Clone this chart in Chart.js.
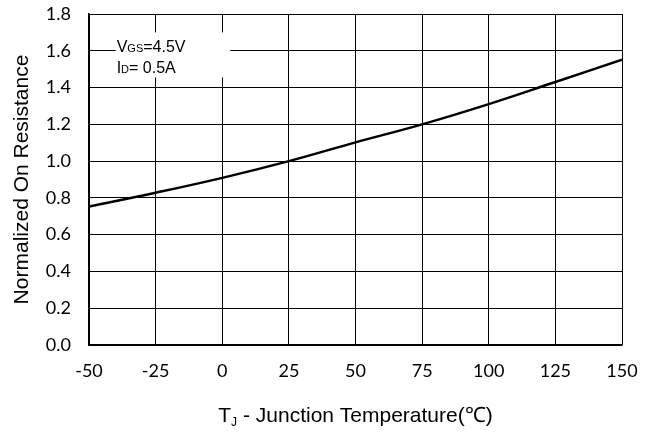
<!DOCTYPE html>
<html>
<head>
<meta charset="utf-8">
<script src="https://cdn.jsdelivr.net/npm/chart.js@4.4.1/dist/chart.umd.min.js"></script>
<style>
  html, body { margin: 0; padding: 0; background: #fff; }
  #wrap { width: 657px; height: 432px; }
</style>
</head>
<body>
<div id="wrap"><canvas id="rdsChart" width="657" height="432"></canvas></div>
<script>
// data
const temps = [-50, -25, 0, 25, 50, 75, 100, 125, 150];
const resistance = [0.753, 0.828, 0.909, 1.0, 1.102, 1.2, 1.31, 1.43, 1.551];
const xTicks = [-50, -25, 0, 25, 50, 75, 100, 125, 150];
const yTicks = [0.0, 0.2, 0.4, 0.6, 0.8, 1.0, 1.2, 1.4, 1.6, 1.8];
const noteLines = [['V', 'GS', '=4.5V'], ['I', 'D', '= 0.5A']];
const xTitle = ['T', 'J', ' - Junction Temperature(\u2103)'];

const tickFont = { family: 'Lato', size: 18 };
const textFamily = '"Liberation Sans", Arial, sans-serif';

// white note box + text, and the x title with subscript
const overlay = {
    id: 'overlay',
    afterDraw(chart) {
        const ctx = chart.ctx;
        const xs = chart.scales.x, ys = chart.scales.y;
        ctx.save();
        // note box sits over the grid near the top left
        const bx = xs.getPixelForValue(-40), by = ys.getPixelForValue(1.70);
        const bw = xs.getPixelForValue(3) - bx, bh = ys.getPixelForValue(1.455) - by;
        ctx.fillStyle = '#fff';
        ctx.fillRect(bx, by, bw, bh);
        ctx.fillStyle = '#000';
        ctx.textBaseline = 'alphabetic';
        noteLines.forEach(function(parts, i) {
            let x = bx + 1;
            const y = by + 20 + i * 21;
            ctx.font = '16px ' + textFamily;
            ctx.fillText(parts[0], x, y);
            x += ctx.measureText(parts[0]).width;
            ctx.font = '11px ' + textFamily;
            ctx.fillText(parts[1], x, y);
            x += ctx.measureText(parts[1]).width;
            ctx.font = '16px ' + textFamily;
            ctx.fillText(parts[2], x, y);
        });

        // x axis title
        ctx.font = '21px ' + textFamily;
        const w0 = ctx.measureText(xTitle[0]).width;
        const w2 = ctx.measureText(xTitle[2]).width;
        ctx.font = '12px ' + textFamily;
        const w1 = ctx.measureText(xTitle[1]).width;
        const cx = (chart.chartArea.left + chart.chartArea.right) / 2;
        let tx = cx - (w0 + w1 + w2) / 2;
        const ty = 422;
        ctx.font = '21px ' + textFamily;
        ctx.fillText(xTitle[0], tx, ty);
        tx += w0;
        ctx.font = '12px ' + textFamily;
        ctx.fillText(xTitle[1], tx, ty + 4);
        tx += w1;
        ctx.font = '21px ' + textFamily;
        ctx.fillText(xTitle[2], tx, ty);
        ctx.restore();
    }
};

const ctx = document.getElementById('rdsChart').getContext('2d');
const rdsChart = new Chart(ctx, {
    type: 'line',
    data: {
        datasets: [{
            label: 'Normalized On Resistance',
            data: temps.map(function(t, i) { return { x: t, y: resistance[i] }; }),
            borderColor: '#000',
            borderWidth: 2.5,
            pointRadius: 0,
            fill: false,
            tension: 0.4
        }]
    },
    options: {
        responsive: false,
        animation: false,
        layout: { padding: { top: 14, right: 35, left: 0, bottom: 0 } },
        plugins: {
            legend: { display: false },
            tooltip: { enabled: false }
        },
        scales: {
            x: {
                type: 'linear',
                min: -50,
                max: 150,
                afterBuildTicks: function(scale) { scale.ticks = xTicks.map(function(v) { return { value: v }; }); },
                afterFit: function(scale) { scale.height = 87; scale.paddingLeft = 0; scale.paddingRight = 0; },
                grid: { color: '#000', lineWidth: 1, drawTicks: false },
                border: { color: '#000', width: 1.5 },
                ticks: { color: '#000', font: tickFont, padding: 15, maxRotation: 0 }
            },
            y: {
                min: 0,
                max: 1.8,
                afterBuildTicks: function(scale) { scale.ticks = yTicks.map(function(v) { return { value: v }; }); },
                afterFit: function(scale) { scale.width = 89; scale.paddingTop = 0; scale.paddingBottom = 0; },
                grid: { color: '#000', lineWidth: 1, drawTicks: false },
                border: { color: '#000', width: 1.5 },
                ticks: {
                    color: '#000', font: tickFont, padding: 18,
                    callback: function(v) { return Number(v).toFixed(1); }
                },
                title: {
                    display: true,
                    text: 'Normalized On Resistance',
                    color: '#000',
                    font: { family: textFamily, size: 21 },
                    padding: { top: 10, bottom: 0 }
                }
            }
        }
    },
    plugins: [overlay]
});
</script>
</body>
</html>
